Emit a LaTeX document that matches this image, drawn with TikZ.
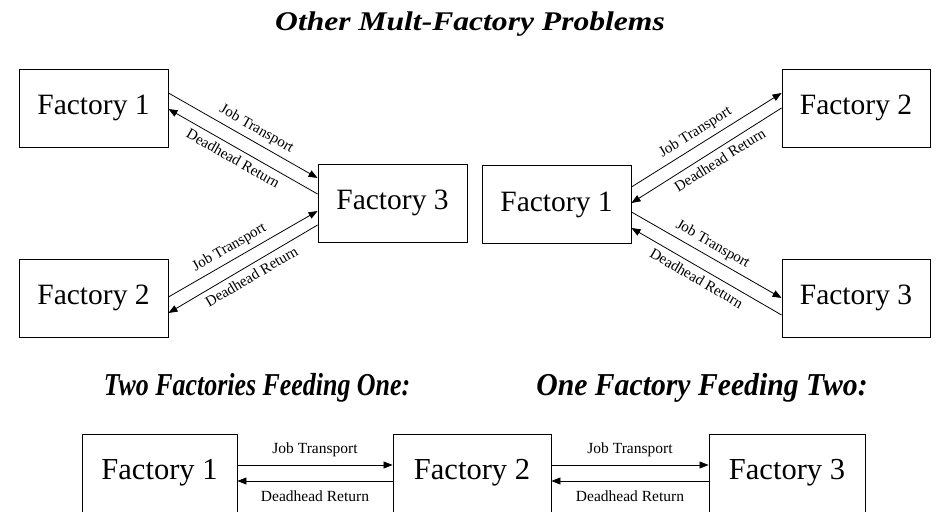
\documentclass[tikz,border=0pt]{standalone}
\usepackage{fontspec}
\setmainfont{Liberation Serif}
\usetikzlibrary{arrows.meta}
\begin{document}
\begin{tikzpicture}[x=1pt,y=-1pt,
  fbox/.style={draw, line width=0.9pt, minimum height=78pt, inner sep=0pt, font=\fontsize{29.5}{30}\selectfont},
  flow/.style={line width=0.8pt, -{Triangle[length=9pt,width=7pt]}},
  lbl/.style={font=\fontsize{15}{15}\selectfont, inner sep=1pt},
  blbl/.style={font=\fontsize{15.5}{16}\selectfont, inner sep=0pt},
  ttl/.style={font=\fontsize{27}{28}\selectfont\bfseries\itshape, inner sep=0pt}]
\useasboundingbox (0,0) rectangle (936,511);

% titles
\node[ttl] (t1) at (470,24) {\scalebox{1.17}[1]{Other Mult-Factory Problems}};
\node[ttl] (t2) at (257,388) {\scalebox{0.96}[1.18]{Two Factories Feeding One:}};
\node[ttl] (t3) at (702,388) {\scalebox{1.1}[1.18]{One Factory Feeding Two:}};

% left group
\node[fbox, minimum width=149pt] (a1) at (93.5,108) {Factory 1};
\node[fbox, minimum width=149pt] (a3) at (392.5,203) {Factory 3};
\node[fbox, minimum width=149pt] (a2) at (93.5,298) {Factory 2};

\draw[flow] ([yshift=15pt]a1.east) -- node[lbl, pos=0.55, sloped, above=4pt] {Job Transport} ([yshift=25pt]a3.west);
\draw[flow] ([yshift=9pt]a3.west) -- node[lbl, pos=0.53, sloped, below=4pt] {Deadhead Return} ([yshift=-1pt]a1.east);
\draw[flow] ([yshift=1pt]a2.east) -- node[lbl, pos=0.45, sloped, above=4pt] {Job Transport} ([yshift=-8pt]a3.west);
\draw[flow] ([yshift=-22pt]a3.west) -- node[lbl, pos=0.48, sloped, below=4pt] {Deadhead Return} ([yshift=-15pt]a2.east);

% right group
\node[fbox, minimum width=149pt] (b1) at (556.5,204.5) {Factory 1};
\node[fbox, minimum width=148pt] (b2) at (856,108) {Factory 2};
\node[fbox, minimum width=148pt] (b3) at (856,298) {Factory 3};

\draw[flow] ([yshift=17.5pt]b1.east) -- node[lbl, pos=0.47, sloped, above=4pt] {Job Transport} ([yshift=15pt]b2.west);
\draw[flow] (b2.west) -- node[lbl, pos=0.45, sloped, below=4pt] {Deadhead Return} ([yshift=1.5pt]b1.east);
\draw[flow] ([yshift=-7.5pt]b1.east) -- node[lbl, pos=0.5, sloped, above=4pt] {Job Transport} (b3.west);
\draw[flow] ([yshift=-17pt]b3.west) -- node[lbl, pos=0.53, sloped, below=4pt] {Deadhead Return} ([yshift=-23.5pt]b1.east);

% bottom row
\node[fbox, minimum width=155pt, font=\fontsize{30.5}{31}\selectfont] (c1) at (159.5,473) {Factory 1};
\node[fbox, minimum width=158pt, font=\fontsize{30.5}{31}\selectfont] (c2) at (472,473) {Factory 2};
\node[fbox, minimum width=156pt, font=\fontsize{30.5}{31}\selectfont] (c3) at (787,473) {Factory 3};

\draw[flow] ([yshift=8pt]c1.east) -- node[blbl, midway, yshift=15pt] {Job Transport} ([yshift=8pt]c2.west);
\draw[flow] ([yshift=-8pt]c2.west) -- node[blbl, midway, yshift=-15pt] {Deadhead Return} ([yshift=-8pt]c1.east);
\draw[flow] ([yshift=8pt]c2.east) -- node[blbl, midway, yshift=15pt] {Job Transport} ([yshift=8pt]c3.west);
\draw[flow] ([yshift=-8pt]c3.west) -- node[blbl, midway, yshift=-15pt] {Deadhead Return} ([yshift=-8pt]c2.east);
\end{tikzpicture}
\end{document}
